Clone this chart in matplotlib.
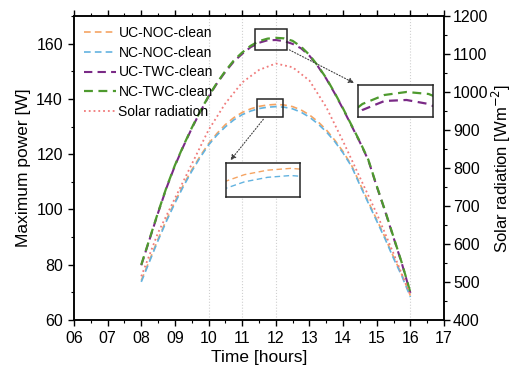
import numpy as np
import matplotlib
matplotlib.use("Agg")
import matplotlib.pyplot as plt
from matplotlib.patches import Rectangle
from matplotlib.ticker import MultipleLocator

plt.rcParams['font.family'] = ['Liberation Sans', 'DejaVu Sans']

# -------- DATA --------
hours = [8.00, 8.25, 8.50, 8.75, 9.00, 9.25, 9.50, 9.75, 10.00, 10.25, 10.50,
         10.75, 11.00, 11.25, 11.50, 11.75, 12.00, 12.25, 12.50, 12.75, 13.00,
         13.25, 13.50, 13.75, 14.00, 14.25, 14.50, 14.75, 15.00, 15.25, 15.50,
         15.75, 16.00]

uc_noc = [74.3, 81.8, 89.3, 96.3, 102.8, 108.8, 114.3, 119.3, 123.8, 127.5, 130.7,
          133.2, 135.1, 136.4, 137.3, 137.8, 138.0, 137.8, 137.2, 136.0, 134.2,
          131.8, 128.8, 125.1, 120.9, 116.0, 109.3, 102.8, 96.3, 89.8, 82.8,
          76.3, 68.8]

nc_noc = [73.8, 81.3, 88.8, 95.8, 102.3, 108.3, 113.8, 118.8, 123.3, 126.9, 129.9,
          132.4, 134.3, 135.6, 136.5, 137.0, 137.2, 137.0, 136.4, 135.2, 133.4,
          131.0, 128.1, 124.6, 120.4, 115.6, 108.8, 102.3, 95.8, 89.3, 82.3,
          75.8, 68.3]

uc_twc = [79.8, 89.3, 98.8, 107.8, 115.8, 122.8, 129.3, 135.3, 140.8, 145.6, 149.8,
          153.5, 156.3, 158.7, 160.3, 161.2, 161.3, 160.9, 159.9, 158.3, 155.6,
          151.8, 147.3, 142.0, 136.3, 130.3, 124.3, 117.8, 108.3, 99.3, 89.8,
          80.3, 69.8]

nc_twc = [80.0, 89.5, 99.0, 108.0, 116.0, 123.0, 129.5, 135.5, 141.0, 145.8, 150.1,
          153.9, 156.8, 159.2, 160.9, 161.8, 162.1, 161.9, 161.0, 158.9, 155.9,
          152.0, 147.5, 142.2, 136.5, 130.5, 124.5, 118.0, 108.5, 99.5, 90.0,
          80.5, 70.0]

solar_hours = [8.0, 8.5, 9.0, 9.5, 10.0, 10.5, 11.0, 11.5, 12.0, 12.5, 13.0,
               13.5, 14.0, 14.5, 15.0, 15.5, 16.0]
solar = [515, 630, 720, 810, 900, 970, 1025, 1058, 1075, 1065, 1030,
         960, 870, 775, 680, 575, 465]

x_ticks = [6, 7, 8, 9, 10, 11, 12, 13, 14, 15, 16, 17]
x_ticklabels = ["06", "07", "08", "09", "10", "11", "12", "13", "14", "15", "16", "17"]
grid_hours = [10, 11, 12, 16]

# -------- STYLE --------
c_orange = "#f5a463"
c_blue = "#63b3e0"
c_purple = "#7a2a86"
c_green = "#4e9a2e"
c_red = "#f07a7a"
dash = (4, 2.5)

fig = plt.figure(figsize=(5.16, 3.78), dpi=100)
ax = fig.add_axes([0.1434, 0.1534, 0.7171, 0.8043])
ax2 = ax.twinx()

for g in grid_hours:
    ax.axvline(g, color="#d0d0d0", linestyle=":", lw=0.8, zorder=0)

l1, = ax.plot(hours, uc_noc, "--", dashes=dash, color=c_orange, lw=1.2, label="UC-NOC-clean")
l2, = ax.plot(hours, nc_noc, "--", dashes=dash, color=c_blue, lw=1.2, label="NC-NOC-clean")
l3, = ax.plot(hours, uc_twc, "--", dashes=dash, color=c_purple, lw=1.5, label="UC-TWC-clean")
l4, = ax.plot(hours, nc_twc, "--", dashes=dash, color=c_green, lw=1.6, label="NC-TWC-clean")
l5, = ax2.plot(solar_hours, solar, ":", color=c_red, lw=1.3, label="Solar radiation")

ax.set_xlim(6, 17)
ax.set_ylim(60, 170)
ax.set_xticks(x_ticks)
ax.set_xticklabels(x_ticklabels)
ax.xaxis.set_minor_locator(MultipleLocator(0.5))
ax.set_yticks([60, 80, 100, 120, 140, 160])
ax.yaxis.set_minor_locator(MultipleLocator(10))
ax2.set_ylim(400, 1200)
ax2.set_yticks(range(400, 1201, 100))
ax2.yaxis.set_minor_locator(MultipleLocator(50))

ax.tick_params(axis="both", which="both", direction="out", labelsize=11.5)
ax.tick_params(axis="x", which="both", top=True)
ax.tick_params(which="major", length=4.5, width=1)
ax.tick_params(which="minor", length=2.5, width=0.8)
ax2.tick_params(which="both", direction="out", labelsize=11.5, pad=2)
ax2.tick_params(which="major", length=4.5, width=1)
ax2.tick_params(which="minor", length=2.5, width=0.8)

for sp in ax.spines.values():
    sp.set_linewidth(1.1)
for sp in ax2.spines.values():
    sp.set_linewidth(1.1)

ax.set_xlabel("Time [hours]", fontsize=12.5, labelpad=3)
ax.set_ylabel("Maximum power [W]", fontsize=12.5, labelpad=4)
ax2.set_ylabel("Solar radiation [Wm$^{-2}$]", fontsize=12, labelpad=1)

ax2.legend(handles=[l1, l2, l3, l4, l5], loc="upper left", frameon=False,
           fontsize=10, handlelength=2.3, handletextpad=0.2, labelspacing=0.42,
           borderaxespad=0.3)

# -------- ZOOM BOXES --------
ax.add_patch(Rectangle((11.44, 133.45), 0.77, 6.5, fill=False, ec="0.15", lw=1.1, zorder=5))
ax.add_patch(Rectangle((11.38, 157.6), 0.95, 7.8, fill=False, ec="0.15", lw=1.1, zorder=5))

ax.annotate("", xy=(10.6, 117.0), xytext=(11.68, 133.4),
            arrowprops=dict(arrowstyle="-|>", linestyle=":", color="0.25", lw=0.8,
                            mutation_scale=8))
ax.annotate("", xy=(14.4, 145.3), xytext=(12.33, 158.2),
            arrowprops=dict(arrowstyle="-|>", linestyle=":", color="0.25", lw=0.8,
                            mutation_scale=8))

# inset: NOC peak
ins1 = fig.add_axes([0.438, 0.4788, 0.1434, 0.09], zorder=10)
ins1.plot(hours, uc_noc, "--", dashes=dash, color=c_orange, lw=1.0)
ins1.plot(hours, nc_noc, "--", dashes=dash, color=c_blue, lw=1.0)
ins1.set_xlim(11.3, 12.1)
ins1.set_ylim(134.8, 138.6)

# inset: TWC peak
ins2 = fig.add_axes([0.6938, 0.6905, 0.1453, 0.0847], zorder=10)
ins2.plot(hours, nc_twc, "--", dashes=dash, color=c_green, lw=1.6)
ins2.plot(hours, uc_twc, "--", dashes=dash, color=c_purple, lw=1.6)
ins2.set_xlim(11.45, 12.3)
ins2.set_ylim(159.6, 162.8)

for ins in (ins1, ins2):
    ins.set_xticks([])
    ins.set_yticks([])
    for sp in ins.spines.values():
        sp.set_linewidth(1.1)
        sp.set_edgecolor("0.15")

fig.savefig("out.png", dpi=100)
